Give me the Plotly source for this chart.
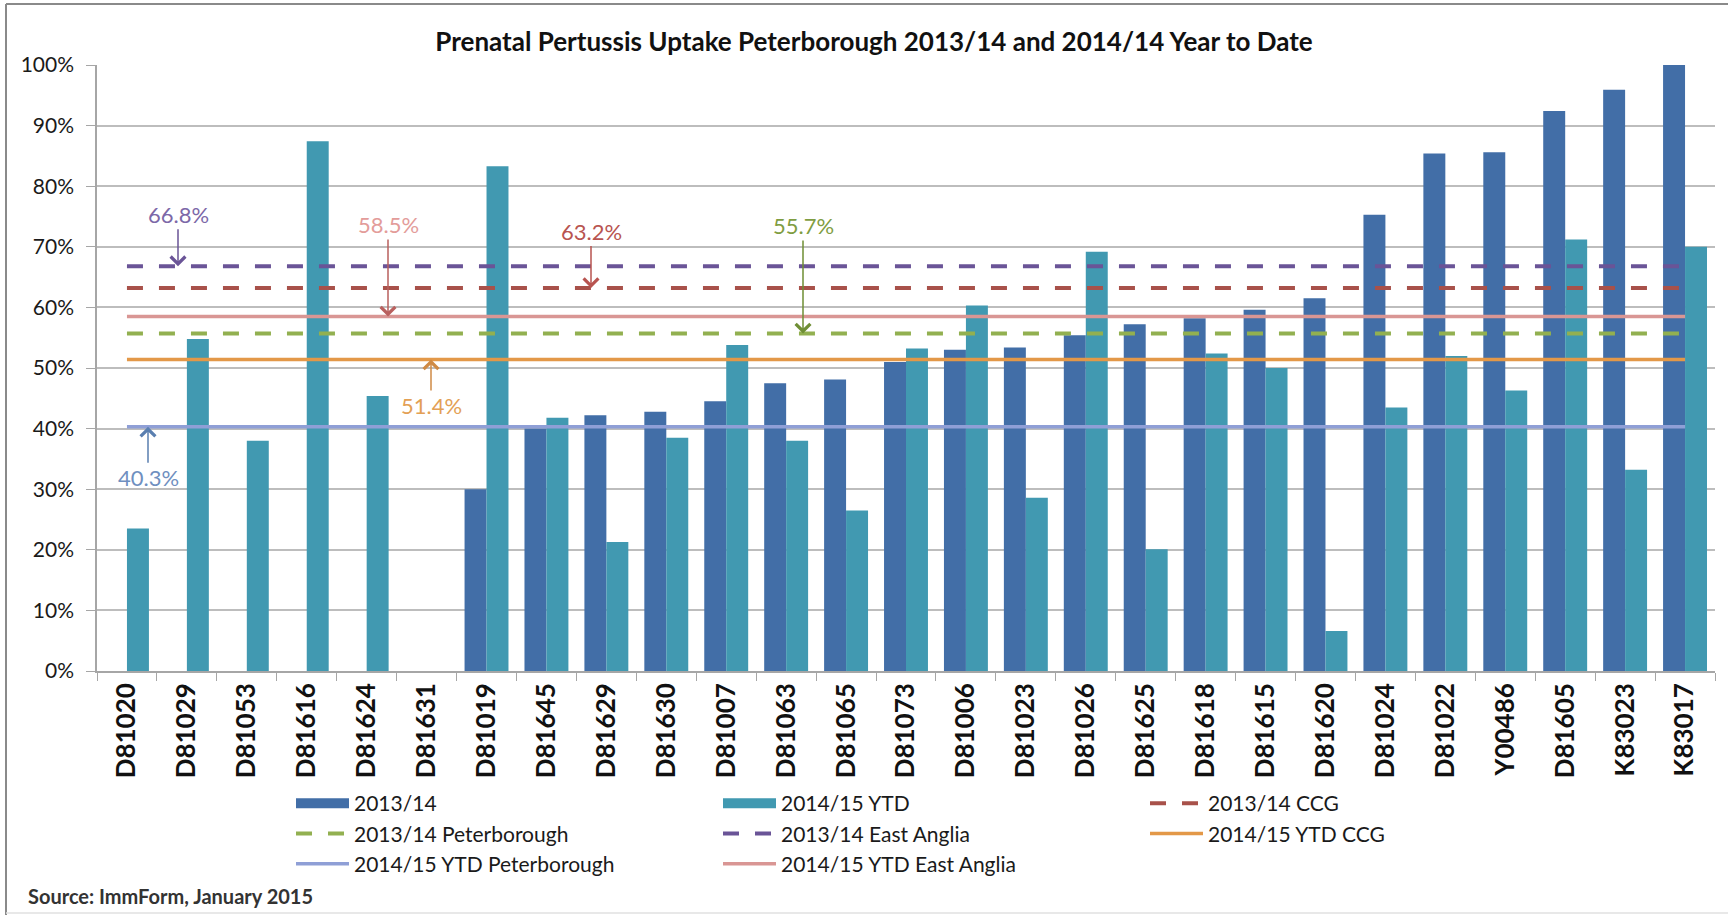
import plotly.graph_objects as go

# GP practice codes along the category axis
practices = [
    "D81020", "D81029", "D81053", "D81616", "D81624", "D81631", "D81019",
    "D81645", "D81629", "D81630", "D81007", "D81063", "D81065", "D81073",
    "D81006", "D81023", "D81026", "D81625", "D81618", "D81615", "D81620",
    "D81024", "D81022", "Y00486", "D81605", "K83023", "K83017",
]

# Uptake (%) per practice; None where no figure was reported
uptake_2013_14 = [
    None, None, None, None, None, None, 30.0,
    40.0, 42.2, 42.8, 44.5, 47.5, 48.1, 51.0,
    53.0, 53.4, 55.4, 57.2, 58.2, 59.6, 61.5,
    75.3, 85.4, 85.6, 92.4, 95.9, 100.0,
]
uptake_2014_15_ytd = [
    23.5, 54.8, 38.0, 87.4, 45.4, None, 83.3,
    41.8, 21.3, 38.5, 53.8, 38.0, 26.5, 53.2,
    60.3, 28.6, 69.2, 20.1, 52.4, 50.0, 6.6,
    43.5, 52.0, 46.3, 71.2, 33.2, 70.0,
]

# Area-level comparison figures (%)
ccg_2013_14 = 63.2
peterborough_2013_14 = 55.7
east_anglia_2013_14 = 66.8
ccg_2014_15_ytd = 51.4
peterborough_2014_15_ytd = 40.3
east_anglia_2014_15_ytd = 58.5

FONT = "Lato"
BLUE = "#426ea7"
TEAL = "#4199b1"

# plot-area geometry in pixels
W, H = 1728, 915
L, R, T, B = 97, 13, 65, 244
PW, PH = W - L - R, H - T - B


def px_x(px):
    return (px - L) / PW


def px_y(py):
    return (H - B - py) / PH


fig = go.Figure()

fig.add_trace(go.Bar(x=practices, y=uptake_2013_14, name="2013/14",
                     marker=dict(color=BLUE, line=dict(width=0)), showlegend=False))
fig.add_trace(go.Bar(x=practices, y=uptake_2014_15_ytd, name="2014/15 YTD",
                     marker=dict(color=TEAL, line=dict(width=0)), showlegend=False))

# wide swatches for the bar series in the legend
for name, col in [("2013/14", BLUE), ("2014/15 YTD", TEAL)]:
    fig.add_trace(go.Scatter(x=[None], y=[None], mode="lines", name=name,
                             line=dict(color=col, width=11), hoverinfo="skip"))

# horizontal comparison lines, from first to last practice
levels = [
    ("2013/14 CCG", ccg_2013_14, "#a8514a", "16px,16px"),
    ("2013/14 Peterborough", peterborough_2013_14, "#92b050", "16px,16px"),
    ("2013/14 East Anglia", east_anglia_2013_14, "#6a5497", "16px,16px"),
    ("2014/15 YTD CCG", ccg_2014_15_ytd, "#e39848", "solid"),
    ("2014/15 YTD Peterborough", peterborough_2014_15_ytd, "#8f9fd6", "solid"),
    ("2014/15 YTD East Anglia", east_anglia_2014_15_ytd, "#d99694", "solid"),
]
for name, val, col, dash in levels:
    fig.add_trace(go.Scatter(
        x=[practices[0], practices[-1]], y=[val, val], mode="lines", name=name,
        line=dict(color=col, width=4 if dash != "solid" else 3.5, dash=dash),
    ))

# value call-outs with arrows pointing at each line
callouts = [
    (east_anglia_2013_14, 178, -52, "#7c68a8", "#6a5497"),
    (east_anglia_2014_15_ytd, 388, -92, "#e39c9a", "#b9605e"),
    (ccg_2013_14, 591, -57, "#b85450", "#b85450"),
    (peterborough_2013_14, 803, -108, "#7f9d42", "#6f8f35"),
    (ccg_2014_15_ytd, 431, 46, "#e3a055", "#cf8a45"),
    (peterborough_2014_15_ytd, 148, 51, "#6f8fc0", "#5a7fb0"),
]
for val, xpx, ay, tcol, acol in callouts:
    fig.add_annotation(
        x=px_x(xpx), xref="paper", y=val, yref="y", text=f"{val:.1f}%",
        showarrow=True, ax=0, ay=ay, arrowhead=4, arrowsize=1.9,
        arrowwidth=1.5, arrowcolor=acol, standoff=0,
        font=dict(family=FONT, size=22, color=tcol),
    )

fig.add_annotation(
    x=px_x(26), xref="paper", y=px_y(896), yref="paper",
    text="Source: ImmForm, January 2015", showarrow=False,
    xanchor="left", yanchor="middle",
    font=dict(family=FONT, size=20, color="#333333", weight="bold"),
)

# chart frame
fig.add_shape(type="line", xref="paper", yref="paper",
              x0=px_x(6), x1=px_x(W), y0=px_y(4), y1=px_y(4),
              line=dict(color="#8a8a8a", width=2))
fig.add_shape(type="line", xref="paper", yref="paper",
              x0=px_x(6), x1=px_x(6), y0=px_y(4), y1=px_y(H),
              line=dict(color="#8a8a8a", width=2))
fig.add_shape(type="line", xref="paper", yref="paper",
              x0=px_x(6), x1=px_x(W), y0=px_y(913), y1=px_y(913),
              line=dict(color="#e0e0e0", width=1.5))

fig.update_layout(
    width=W, height=H,
    margin=dict(l=L, r=R, t=T, b=B, autoexpand=False),
    paper_bgcolor="white", plot_bgcolor="white",
    barmode="group", bargap=0.267, bargroupgap=0,
    title=dict(
        text="Prenatal Pertussis Uptake Peterborough 2013/14 and 2014/14 Year to Date",
        x=874 / W, xref="container", xanchor="center",
        y=1 - 42 / H, yref="container", yanchor="middle",
        font=dict(family=FONT, size=26, color="#111111", weight="bold"),
    ),
    font=dict(family=FONT, color="#1a1a1a"),
    legend=dict(
        orientation="h", x=px_x(291), xanchor="left",
        y=px_y(783), yanchor="top",
        entrywidth=359, entrywidthmode="pixels", itemwidth=53,
        font=dict(family=FONT, size=21, color="#1a1a1a"),
        traceorder="normal", bgcolor="rgba(0,0,0,0)",
    ),
    xaxis=dict(
        type="category", tickangle=-90, tickson="boundaries",
        ticks="outside", ticklen=8, tickcolor="#a6a6a6",
        showline=True, linecolor="#a6a6a6", linewidth=1.5,
        showgrid=False,
        tickfont=dict(family=FONT, size=26, color="#111111", weight="bold"),
    ),
    yaxis=dict(
        range=[0, 100], dtick=10, ticksuffix="%",
        ticks="outside", ticklen=9, tickcolor="#a6a6a6",
        showline=True, linecolor="#a6a6a6", linewidth=1.5,
        showgrid=True, gridcolor="#bdbdbd", gridwidth=1.5,
        zeroline=False, ticklabelstandoff=8,
        tickfont=dict(family=FONT, size=21, color="#1a1a1a"),
    ),
)

fig.write_html("out.html")
